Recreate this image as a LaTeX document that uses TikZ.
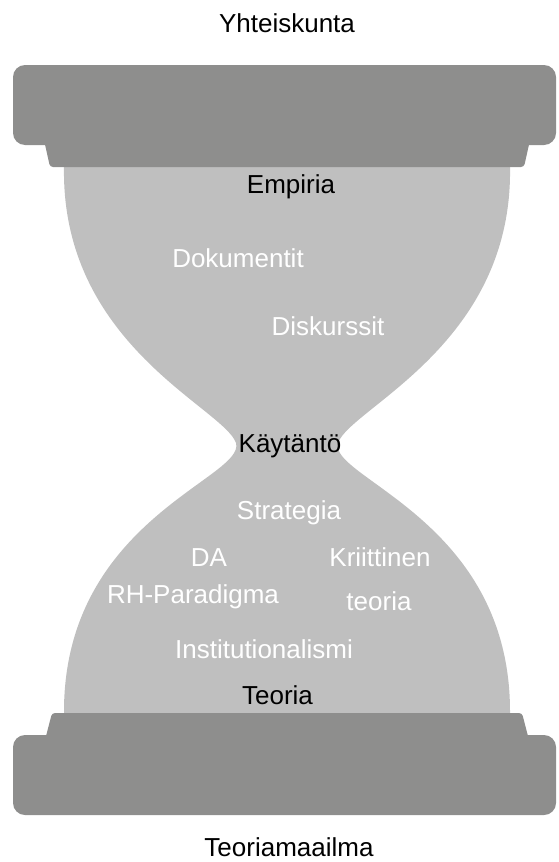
\documentclass[tikz,border=0pt]{standalone}
\usepackage{fontspec}
\setmainfont{Liberation Sans}
\definecolor{capgray}{RGB}{142,142,141}
\definecolor{sandgray}{RGB}{191,191,191}
\begin{document}
\begin{tikzpicture}[x=1pt,y=-1pt,
    word/.style={font=\fontsize{26}{30}\selectfont,anchor=base,inner sep=0pt},
    dark/.style={word,text=black},
    light/.style={word,text=white}]
  \useasboundingbox (0,0) rectangle (559,862);
  \fill[sandgray] (64,167) -- (510,167)
    .. controls (513,345) and (350,408) .. (338,443)
    .. controls (328,478) and (511,520) .. (510,713)
    -- (64,713)
    .. controls (63,520) and (246,478) .. (236,443)
    .. controls (224,408) and (61,345) .. (64,167) -- cycle;
  \fill[capgray,rounded corners=3] (44,140) -- (530,140) -- (524,167) -- (50,167) -- cycle;
  \fill[capgray,rounded corners=12] (13,65) rectangle (556,145);
  \fill[capgray,rounded corners=3] (52,713) -- (522,713) -- (529,740) -- (45,740) -- cycle;
  \fill[capgray,rounded corners=12] (13,735) rectangle (556,815);
  \node[dark] (society) at (287,32) {Yhteiskunta};
  \node[dark] (empiria) at (291,193) {Empiria};
  \node[light] (docs) at (238,267) {Dokumentit};
  \node[light] (discourse) at (328,335) {Diskurssit};
  \node[dark] (practice) at (290,452) {Käytäntö};
  \node[light] (strategy) at (289,519) {Strategia};
  \node[light] (da) at (209,566) {DA};
  \node[light] (critical) at (380,566) {Kriittinen};
  \node[light] (rh) at (193,603) {RH-Paradigma};
  \node[light] (criticaltwo) at (379,610) {teoria};
  \node[light] (inst) at (264,658) {Institutionalismi};
  \node[dark] (theory) at (277.5,704) {Teoria};
  \node[dark] (theoryworld) at (289,856) {Teoriamaailma};
\end{tikzpicture}
\end{document}
